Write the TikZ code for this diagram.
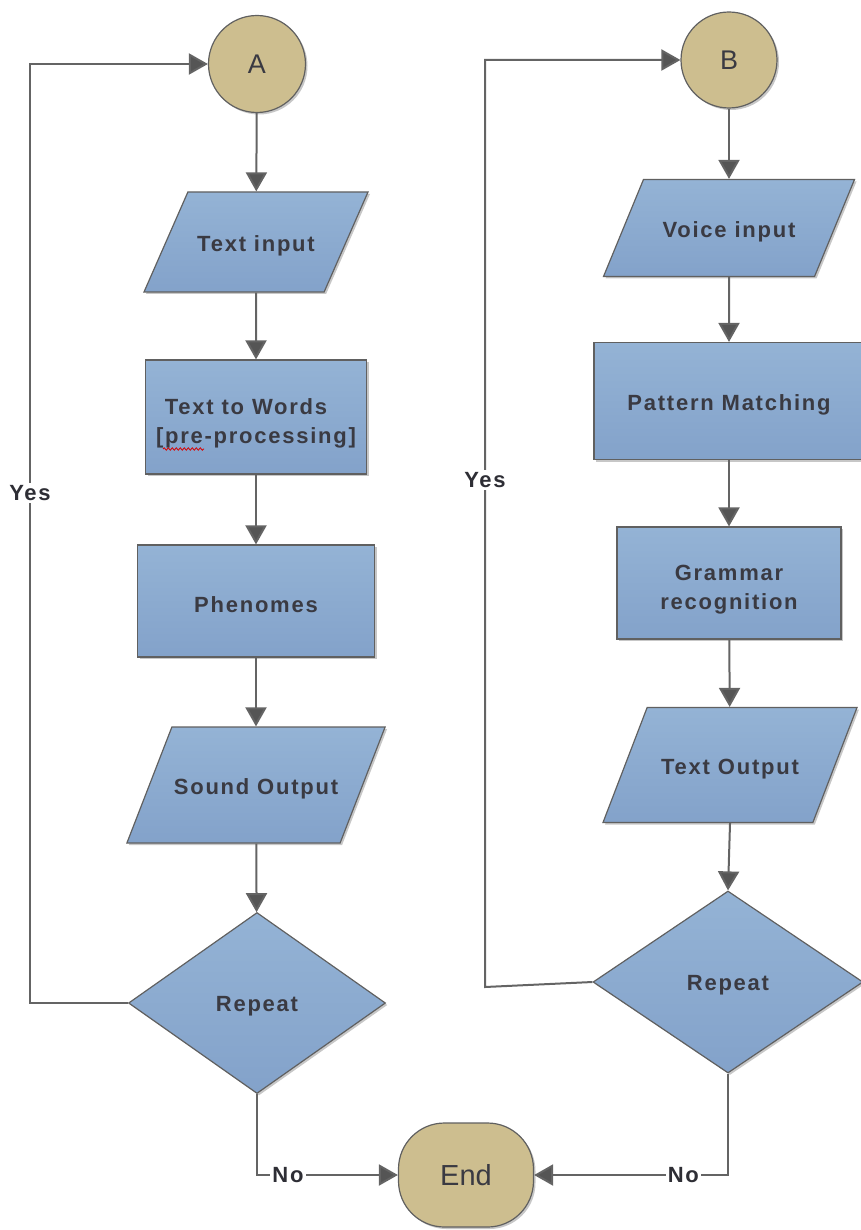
\documentclass[tikz,border=0pt]{standalone}
\usepackage{fontspec}
\setmainfont{Liberation Sans}
\newfontfamily\lblfont[LetterSpace=8]{Liberation Sans}
\usetikzlibrary{shapes.geometric,shadows,arrows.meta,decorations.pathmorphing}

\definecolor{boxtop}{RGB}{148,179,213}
\definecolor{boxbot}{RGB}{131,162,202}
\definecolor{tan}{RGB}{205,190,143}
\definecolor{edge}{RGB}{96,96,96}
\definecolor{wire}{RGB}{100,100,100}
\definecolor{ink}{RGB}{58,58,66}

\tikzset{
  softshadow/.style={drop shadow={shadow xshift=2pt,shadow yshift=-2pt,opacity=.22,fill=black}},
  blockbase/.style={draw=edge,line width=1.2pt,top color=boxtop,bottom color=boxbot,
    text=ink,font=\lblfont\bfseries\fontsize{22}{29}\selectfont,align=center,
    inner sep=2pt,softshadow},
  procbox/.style 2 args={blockbase,rectangle,minimum width=#1,minimum height=#2,text height=23pt},
  % parallelogram: full width, vertical padding, slope angle
  iobox/.style n args={3}{blockbase,trapezium,trapezium stretches body,
    trapezium left angle=#3,trapezium right angle=180-#3,
    text height=24pt,text depth=5pt,inner ysep=#2,inner xsep=2pt,
    minimum width=#1},
  decision/.style 2 args={blockbase,diamond,minimum width=#1,minimum height=#2,inner sep=0pt,text height=22pt},
  connector/.style={fill=tan,draw=edge,line width=1.2pt,circle,
    minimum size=#1,inner sep=0pt,text=ink,font=\fontsize{27}{32}\selectfont,softshadow},
  terminal/.style={draw=edge,fill=tan,line width=1.2pt,rectangle,rounded corners=46pt,
    minimum width=135,minimum height=104,text=ink,font=\fontsize{29}{34}\selectfont,softshadow},
  flow/.style={draw=wire,line width=2pt,-{Triangle[length=19pt,width=21pt,fill=wire!85!black]}},
  branch/.style={fill=white,inner sep=2pt,text=ink!80!black,font=\lblfont\bfseries\fontsize{22}{26}\selectfont}
}

\begin{document}
\begin{tikzpicture}[x=1pt,y=-1pt]
\useasboundingbox (0,0) rectangle (860,1230);

% left column: text to speech
\node[connector=97] (A) at (257,64) {A};
\node[iobox={224}{35.5pt}{66.3}] (tin) at (256,242) {Text input};
\node[procbox={221}{114},text height=57pt] (tw) at (256,417) {Text to Words\hspace*{20pt}\\{[pre-processing]}};
\node[procbox={237}{112}] (ph) at (256,601) {Phenomes};
\node[iobox={255}{43.5pt}{68.8}] (so) at (256,785) {Sound Output};
\node[decision={257}{181}] (rep1) at (257,1003) {Repeat};

% right column: speech to text
\node[connector=96] (B) at (729,60) {B};
\node[iobox={251}{34pt}{67.6}] (vi) at (729,228) {Voice input};
\node[procbox={270}{117}] (pm) at (729,401) {Pattern Matching};
\node[procbox={224}{112},text height=58pt] (gr) at (729,583) {Grammar\\recognition};
\node[iobox={254}{43pt}{69}] (tout) at (730,765) {Text Output};
\node[decision={270}{182}] (rep2) at (728,982) {Repeat};

\node[terminal] (end) at (466,1175) {End};

% spell-check squiggle under "pre"
\draw[red!85!black,line width=0.8pt,decorate,decoration={snake,amplitude=1.2pt,segment length=4pt}]
  (163,449) -- (204,449);

% main flow
\draw[flow] (A) -- (tin);
\draw[flow] (tin) -- (tw);
\draw[flow] (tw) -- (ph);
\draw[flow] (ph) -- (so);
\draw[flow] (so) -- (rep1);

\draw[flow] (B) -- (vi);
\draw[flow] (vi) -- (pm);
\draw[flow] (pm) -- (gr);
\draw[flow] (gr) -- (tout);
\draw[flow] (tout.south) -- (rep2.north);

% loops back
\coordinate (ly1) at (30,1003);
\coordinate (ly2) at (30,64);
\draw[flow] (rep1.west) -- (ly1) -- node[branch,pos=0.543] {Yes} (ly2) -- (A.west);

\coordinate (ry1) at (485,987);
\coordinate (ry2) at (485,60);
\draw[flow] (rep2.west) -- (ry1) -- node[branch,pos=0.547] {Yes} (ry2) -- (B.west);

% exits
\coordinate (ln) at (257,1175);
\draw[flow] (rep1.south) -- (ln) -- node[branch,pos=0.22] {No} (end.west);
\coordinate (rn) at (728,1175);
\draw[flow] (rep2.south) -- (rn) -- node[branch,pos=0.23] {No} (end.east);
\end{tikzpicture}
\end{document}
